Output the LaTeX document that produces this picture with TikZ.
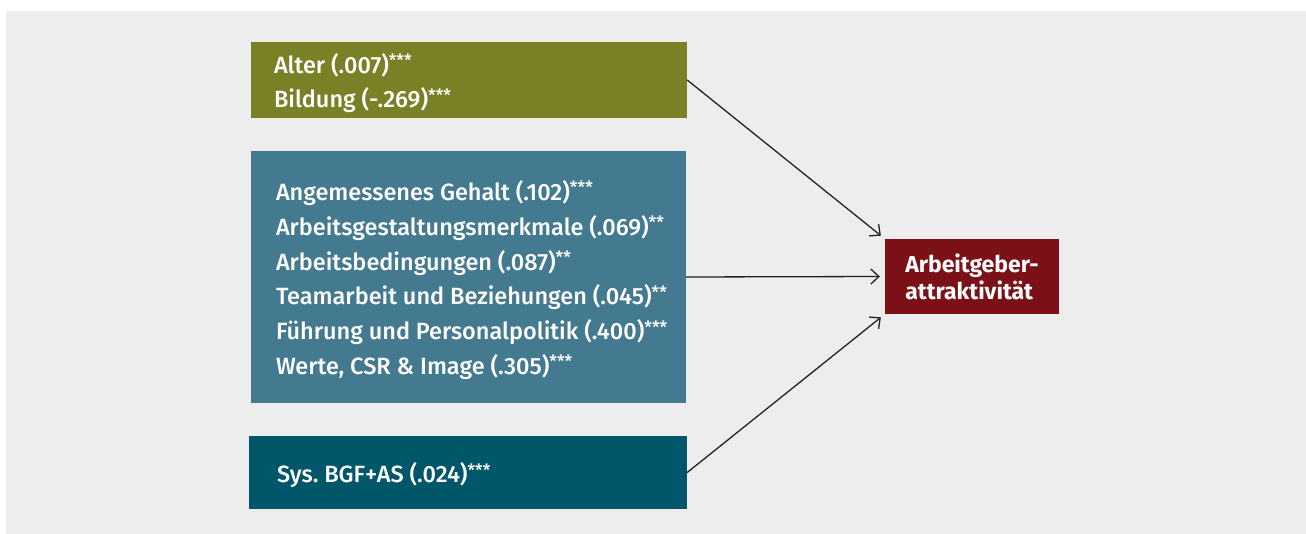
\documentclass[tikz,border=0pt]{standalone}
\usepackage{fontspec}
\setmainfont{Fira Sans}[UprightFont=* Medium,BoldFont=* Bold]
\usepackage{tikz}
\usetikzlibrary{arrows.meta,positioning,backgrounds}

\definecolor{bggrey}{RGB}{237,237,237}
\definecolor{olivebox}{RGB}{122,128,37}
\definecolor{tealbox}{RGB}{68,122,143}
\definecolor{darkteal}{RGB}{0,87,105}
\definecolor{darkred}{RGB}{123,16,22}
\definecolor{arrowcol}{RGB}{34,34,34}

\newcommand{\sig}[1]{{\fontsize{17bp}{17bp}\selectfont\raisebox{6.5bp}{#1}}}

\tikzset{
  factorbox/.style={inner sep=0bp,anchor=center},
  factortext/.style={text=white,align=left,inner sep=0bp,
    font=\frenchspacing\fontsize{23.5bp}{34.8bp}\selectfont},
  result/.style={fill=darkred,text=white,align=left,inner sep=0bp,
    font=\bfseries\fontsize{23bp}{27bp}\selectfont},
  effect/.style={->,draw=arrowcol,line width=1.3bp,shorten >=5bp}
}

\begin{document}
\begin{tikzpicture}[>={Straight Barb[length=8bp,width=15bp]},line join=bevel]
\useasboundingbox (0bp,0bp) rectangle (1306bp,534bp);
\fill [bggrey] (6bp,0bp) rectangle (1306bp,523bp);
%%
\node (demo) at (469bp,454bp) [factorbox,fill=olivebox,minimum width=436bp,minimum height=76bp] {};
\node (demotxt) [factortext,right=23bp of demo.west,yshift=-3bp]
  {Alter (.007)\sig{***}\\ Bildung (-.269)\sig{***}};
\node (job) at (468.5bp,257bp) [factorbox,fill=tealbox,minimum width=435bp,minimum height=252bp] {};
\node (jobtxt) [factortext,right=25bp of job.west,yshift=-3bp]
  {Angemessenes Gehalt (.102)\sig{***}\\
   Arbeitsgestaltungsmerkmale (.069)\sig{**}\\
   Arbeitsbedingungen (.087)\sig{**}\\
   Teamarbeit und Beziehungen (.045)\sig{**}\\
   Führung und Personalpolitik (.400)\sig{***}\\
   Werte, CSR \& Image (.305)\sig{***}};
\node (bgf) at (468bp,61.5bp) [factorbox,fill=darkteal,minimum width=438bp,minimum height=73bp] {};
\node (bgftxt) [factortext,right=28bp of bgf.west,yshift=-3bp]
  {Sys. BGF+AS (.024)\sig{***}};
\node (attr) at (972bp,257.5bp) [result,minimum width=174bp,minimum height=75bp]
  {Arbeitgeber-\\attraktivität};
%
\draw [effect] (demo.east) -- (attr.north west);
\draw [effect] (job.east) -- (attr.west);
\draw [effect] (bgf.east) -- (attr.south west);
%
\end{tikzpicture}
\end{document}
